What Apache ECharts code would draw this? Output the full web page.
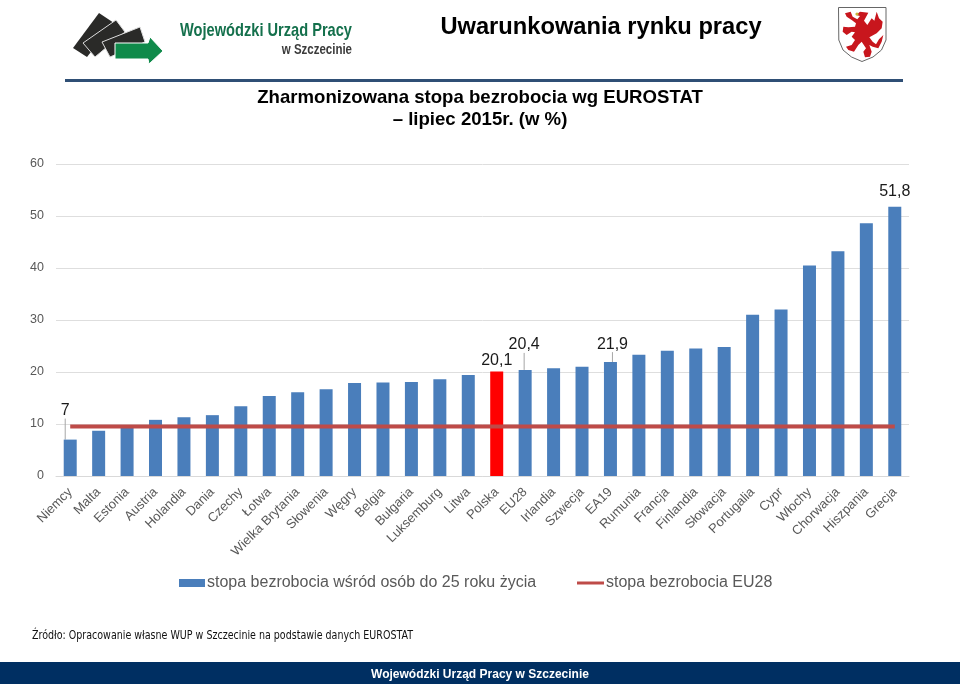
<!DOCTYPE html>
<html><head><meta charset="utf-8">
<style>html,body{margin:0;padding:0;background:#fff}#c{width:960px;height:684px}</style>
<script src="https://cdn.jsdelivr.net/npm/echarts@6/dist/echarts.min.js"></script>
</head><body><div id="c"></div>
<script>
const categories = ['Niemcy','Malta','Estonia','Austria','Holandia','Dania','Czechy','Łotwa','Wielka Brytania','Słowenia','Węgry','Belgia','Bułgaria','Luksemburg','Litwa','Polska','EU28','Irlandia','Szwecja','EA19','Rumunia','Francja','Finlandia','Słowacja','Portugalia','Cypr','Włochy','Chorwacja','Hiszpania','Grecja'];
const youthRate = [7,8.7,9.5,10.8,11.3,11.7,13.4,15.4,16.1,16.7,17.9,18,18.1,18.6,19.4,20.1,20.4,20.7,21,21.9,23.3,24.1,24.5,24.8,31,32,40.5,43.2,48.6,51.8];
const eu28Rate = categories.map(() => 9.5);
const labelled = {0:[-5,-16,true],15:[0,2,false],16:[-1,-12,true],19:[2,-5,true],29:[0,-2,false]};
const highlighted = 'Polska';
const youthName = 'stopa bezrobocia wśród osób do 25 roku życia';
const euName = 'stopa bezrobocia EU28';
const chart = echarts.init(document.getElementById('c'), null, {renderer:'canvas'});
const sans = '"Liberation Sans", Arial, sans-serif';
const griffinPts = [[228,45],[240,35],[265,38],[252,62],[262,75],[275,55],[283,62],[290,35],[297,55],[308,65],[305,85],[290,100],[275,108],[268,112],[278,125],[288,133],[297,118],[310,105],[305,125],[295,145],[278,140],[268,135],[275,155],[270,170],[255,172],[250,155],[258,145],[245,125],[235,135],[222,155],[205,150],[198,140],[215,135],[225,120],[215,110],[225,97],[215,95],[200,105],[188,95],[190,80],[205,82],[225,80],[228,70],[215,60],[200,50],[195,40],[212,35],[218,50],[232,58],[240,48]];
const shieldPts = [[838.5,7.5],[886,7.5],[886,40],[881.5,50],[873,57],[862,61.5],[851.5,57],[843,50],[838.8,40]];
const legendText = {fontSize:16,color:'#595959',fontFamily:sans,padding:[0,0,0,-3]};
chart.setOption({
  animation:false,
  textStyle:{fontFamily:sans},
  grid:{left:56,right:51,top:164,height:312,containLabel:false},
  legend:[
    {left:174,top:570,itemWidth:26,itemHeight:8,textStyle:legendText,data:[{name:youthName,icon:'rect'}]},
    {left:572,top:570,itemWidth:27,itemHeight:3,textStyle:legendText,data:[{name:euName,icon:'rect'}]}
  ],
  xAxis:{type:'category',data:categories,
    axisLine:{lineStyle:{color:'#D9D9D9'}},axisTick:{show:false},
    axisLabel:{interval:0,rotate:45,fontSize:13,color:'#595959',margin:14}},
  yAxis:{type:'value',min:0,max:60,interval:10,
    axisLine:{show:false},axisTick:{show:false},
    axisLabel:{fontSize:12.5,color:'#595959',margin:12,padding:[4,0,0,0]},
    splitLine:{lineStyle:{color:'#DEDEDE'}}},
  series:[
    {name:youthName,type:'bar',barWidth:13,
     itemStyle:{color:'#4A7EBB'},
     data:youthRate.map((v,i)=>{
       const d={value:v};
       if(categories[i]===highlighted) d.itemStyle={color:'#FF0000'};
       if(labelled[i]){
         d.label={show:true,position:'top',fontSize:16,color:'#1A1A1A',formatter:String(v).replace('.',',')};
         d.labelLine={show:labelled[i][2]};
       }
       return d;
     }),
     labelLayout:p=>{
       const o=labelled[p.dataIndex];
       if(!o) return {};
       const r=p.rect,l=p.labelRect;
       const lx=l.x+l.width/2+o[0],ly=l.y+l.height+o[1]+1,bx=r.x+r.width/2,by=r.y;
       return {dx:o[0],dy:o[1],labelLinePoints:[[lx,ly],[(lx+bx)/2,(ly+by)/2],[bx,by]]};
     },
     labelLine:{show:true,lineStyle:{color:'#A6A6A6',width:1}}},
    {name:euName,type:'line',data:eu28Rate,symbol:'none',z:5,
     lineStyle:{color:'#BE4B48',width:4},itemStyle:{color:'#BE4B48'}}
  ],
  graphic:[
    {type:'rect',shape:{x:65,y:79,width:838,height:3},style:{fill:'#2F4F75'},silent:true},
    {type:'rect',shape:{x:0,y:662,width:960,height:22},style:{fill:'#002F62'},silent:true},
    {type:'text',x:480,y:675,style:{text:'Wojewódzki Urząd Pracy w Szczecinie',fill:'#fff',font:'bold 12px '+sans,align:'center',verticalAlign:'middle'}},
    {type:'text',x:601,y:27,style:{text:'Uwarunkowania rynku pracy',fill:'#000',font:'bold 23.7px '+sans,align:'center',verticalAlign:'middle'}},
    {type:'text',x:480,y:98,style:{text:'Zharmonizowana stopa bezrobocia wg EUROSTAT',fill:'#000',font:'bold 18.6px '+sans,align:'center',verticalAlign:'middle'}},
    {type:'text',x:480,y:120,style:{text:'– lipiec 2015r. (w %)',fill:'#000',font:'bold 18.6px '+sans,align:'center',verticalAlign:'middle'}},
    {type:'text',x:32,y:636,scaleX:0.86,style:{text:'Źródło: Opracowanie własne WUP w Szczecinie na podstawie danych EUROSTAT',fill:'#111',font:'12.3px "DejaVu Sans Condensed", "Noto Sans", sans-serif',align:'left',verticalAlign:'middle'}},
    {type:'polygon',shape:{points:[[73,48],[99,13],[114,23],[87,57]]},style:{fill:'#2A2A28'}},
    {type:'polygon',shape:{points:[[83,43],[116,20],[125,32],[95,57]]},style:{fill:'#2A2A28',stroke:'#ddd',lineWidth:1}},
    {type:'polygon',shape:{points:[[102,42],[140,27],[145,42],[110,57]]},style:{fill:'#2A2A28',stroke:'#ddd',lineWidth:1}},
    {type:'polygon',shape:{points:[[115,43],[148,43],[150,37],[163,51],[149,64],[148,59],[115,59]]},style:{fill:'#0F8A4A',stroke:'#fff',lineWidth:1}},
    {type:'text',x:352,y:31,scaleX:0.79,style:{text:'Wojewódzki Urząd Pracy',fill:'#14704C',font:'bold 18.5px '+sans,align:'right',verticalAlign:'middle'}},
    {type:'text',x:352,y:50,scaleX:0.82,style:{text:'w Szczecinie',fill:'#3C3C3C',font:'bold 14px '+sans,align:'right',verticalAlign:'middle'}},
    {type:'polygon',shape:{points:shieldPts},style:{fill:'#fff',stroke:'#666',lineWidth:1}},
    {type:'polygon',x:780,y:0,scaleX:1/3,scaleY:1/3,shape:{points:griffinPts},style:{fill:'#C8161D'}},
    {type:'circle',shape:{cx:857,cy:14,r:1.6},style:{fill:'#C9B33A'}}
  ]
});
</script></body></html>
